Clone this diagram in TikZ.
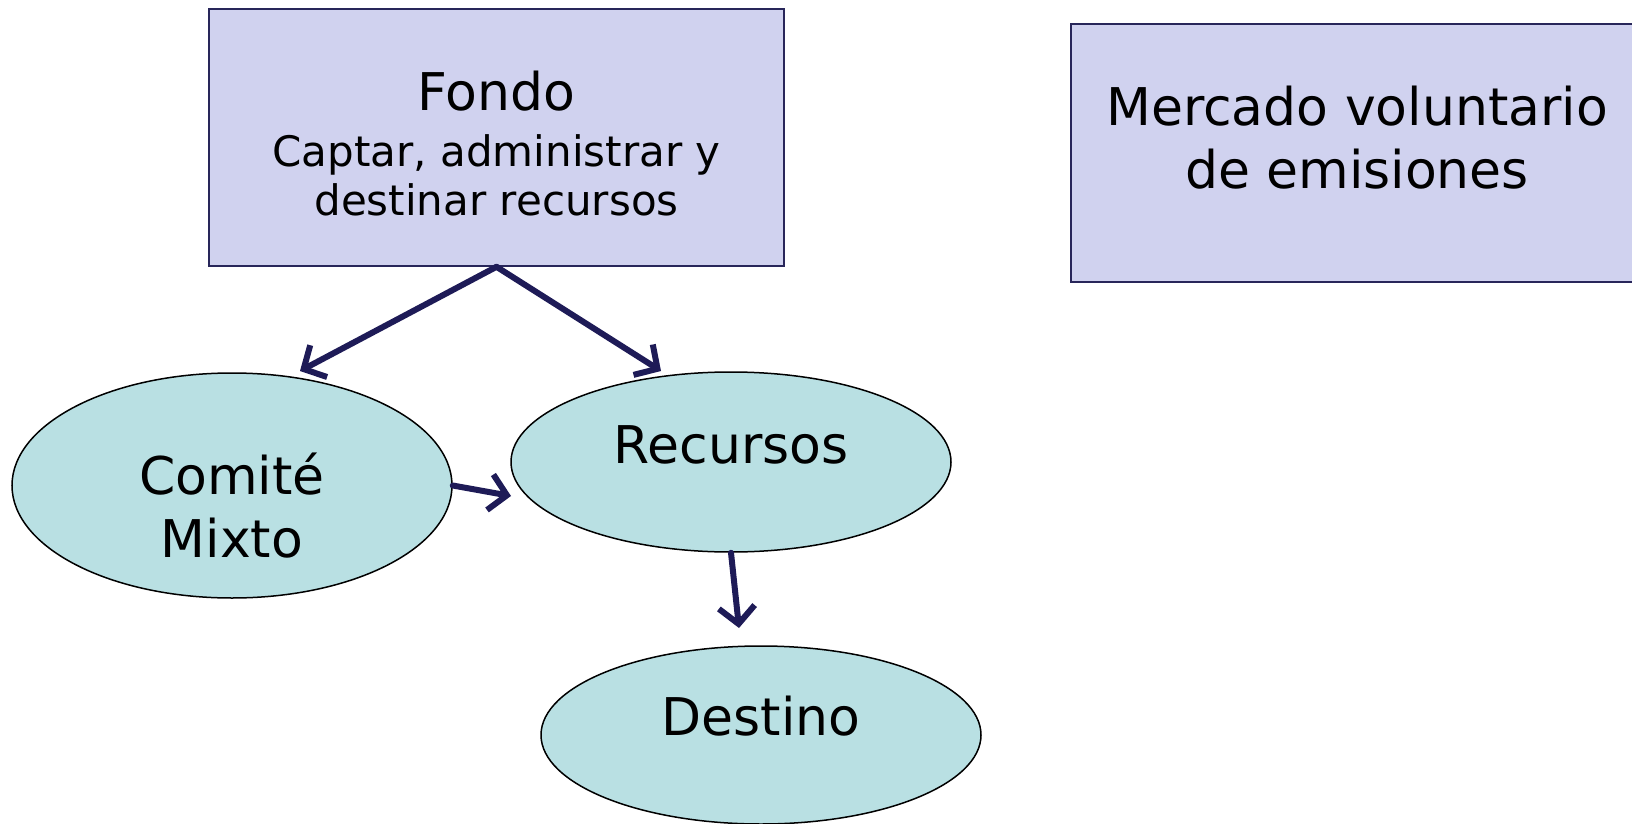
\documentclass[tikz,border=0pt]{standalone}
\usepackage{fontspec}
\setmainfont{DejaVu Sans}
\usetikzlibrary{shapes.geometric,arrows.meta}
\definecolor{boxfill}{RGB}{208,210,239}
\definecolor{boxline}{RGB}{40,38,90}
\definecolor{ellfill}{RGB}{185,224,227}
\definecolor{arrcol}{RGB}{30,27,87}
\tikzset{
  bigbox/.style={draw=boxline, line width=1.6pt, fill=boxfill, rectangle, inner sep=0pt},
  oval/.style={draw=black, line width=1.5pt, fill=ellfill, ellipse, inner sep=0pt, minimum width=440pt},
  bigtxt/.style={font=\fontsize{52}{62}\selectfont, anchor=base, inner sep=0pt},
  smalltxt/.style={font=\fontsize{42}{50}\selectfont, anchor=base, inner sep=0pt},
  arr/.style={draw=arrcol, line width=6pt, line cap=round, -{Straight Barb[length=17pt, width=36pt, line width=6pt]}}
}
\begin{document}
\begin{tikzpicture}[x=1pt,y=-1pt]
\useasboundingbox (0,0) rectangle (1632,824);
% boxes
\node[bigbox, minimum width=575pt, minimum height=257pt] (fondo) at (496.5,137.5) {};
\node[bigbox, minimum width=572pt, minimum height=258pt] (mercado) at (1357,153) {};
% ellipses
\node[oval, minimum height=225pt] (comite) at (232,485.5) {};
\node[oval, minimum height=180pt] (recursos) at (731,462) {};
\node[oval, minimum height=178pt] (destino) at (761,735) {};
% texts
\node[bigtxt] (tfondo) at (496.5,111) {Fondo};
\node[smalltxt] (tcap1) at (496.5,166) {Captar, administrar y};
\node[smalltxt] (tcap2) at (496.5,215) {destinar recursos};
\node[bigtxt] (tmer1) at (1357,126) {Mercado voluntario};
\node[bigtxt] (tmer2) at (1357,188) {de emisiones};
\node[bigtxt] (tcom1) at (232,494) {Comité};
\node[bigtxt] (tcom2) at (232,557) {Mixto};
\node[bigtxt] (trec) at (731,463) {Recursos};
\node[bigtxt] (tdes) at (761,735) {Destino};
% arrow tips
\coordinate (p1) at (300,371);
\coordinate (p2) at (661,371);
\coordinate (p3) at (511,496);
\coordinate (p4) at (739,628);
% connectors
\draw[arr] (fondo.south) -- (p1);
\draw[arr] (fondo.south) -- (p2);
\draw[arr] (comite.east) -- (p3);
\draw[arr] (recursos.south) -- (p4);
\end{tikzpicture}
\end{document}
